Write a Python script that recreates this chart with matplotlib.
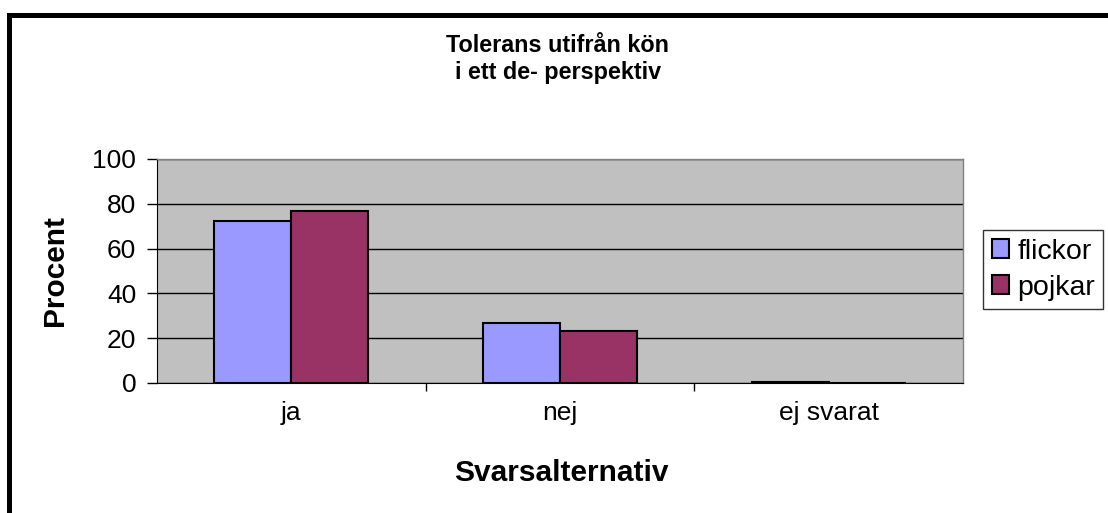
import matplotlib
matplotlib.use("Agg")
import matplotlib.pyplot as plt
from matplotlib.patches import Rectangle
import numpy as np

categories = ["ja", "nej", "ej svarat"]
flickor = [72.5, 27.0, 0.5]
pojkar = [77.0, 23.0, 0.0]
y_ticks = [0, 20, 40, 60, 80, 100]

plt.rcParams["font.family"] = ["Liberation Sans", "DejaVu Sans"]

fig = plt.figure(figsize=(11.08, 5.13), dpi=100)
W, H = 1108, 513
ax = fig.add_axes([157 / W, 1 - 383 / H, (963 - 157) / W, (383 - 159) / H])
ax.set_facecolor("#C0C0C0")

x = np.arange(len(categories))
bw = 0.287
ax.bar(x - bw / 2, flickor, bw, color="#9999FF", edgecolor="black", lw=1.5,
       label="flickor", zorder=3)
ax.bar(x + bw / 2, pojkar, bw, color="#993366", edgecolor="black", lw=1.5,
       label="pojkar", zorder=3)

ax.set_xlim(-0.5, 2.5)
ax.set_ylim(0, 100)
ax.set_yticks(y_ticks)
ax.set_yticklabels([str(t) for t in y_ticks], fontsize=19)
ax.set_xticks([0.5, 1.5], minor=False)
ax.set_xticklabels([])
ax.set_xticks(x, minor=True)
ax.set_xticklabels(categories, minor=True, fontsize=19)
ax.tick_params(axis="x", which="minor", length=0, pad=13)
ax.tick_params(axis="x", which="major", length=6, width=1, direction="out")
ax.tick_params(axis="y", length=7, width=1, direction="out", pad=8)
ax.grid(axis="y", color="black", lw=1, zorder=1)
for side in ["top", "right"]:
    ax.spines[side].set_color("#808080")
    ax.spines[side].set_linewidth(1)
ax.spines["left"].set_color("black")
ax.spines["bottom"].set_color("black")

ax.set_xlabel("Svarsalternativ", fontsize=21.5, fontweight="bold")
ax.xaxis.set_label_coords(561 / W, 1 - 473 / H, transform=fig.transFigure)
ax.xaxis.label.set_va("center")
ax.set_ylabel("Procent", fontsize=21.5, fontweight="bold")
ax.yaxis.set_label_coords(55 / W, 1 - 270 / H, transform=fig.transFigure)
ax.yaxis.label.set_va("center")

fig.text(558 / W, 1 - 45 / H, "Tolerans utifrån kön", ha="center", va="center",
         fontsize=16.8, fontweight="bold")
fig.text(558 / W, 1 - 73 / H, "i ett de- perspektiv", ha="center", va="center",
         fontsize=16.8, fontweight="bold")

leg = ax.legend(loc="upper left", bbox_to_anchor=(983 / W, 1 - 230 / H),
                bbox_transform=fig.transFigure, fontsize=20.5, frameon=True,
                fancybox=False, edgecolor="black", handlelength=0.6,
                handleheight=0.6, handletextpad=0.3, borderpad=0.3,
                labelspacing=0.35, borderaxespad=0)
leg.get_frame().set_linewidth(1)

fig.patches.append(Rectangle((8.5 / W, -0.1), 1.2, 1 - 14.5 / H + 0.1,
                             transform=fig.transFigure, fill=False,
                             edgecolor="black", lw=3.6))

fig.savefig("out.png", dpi=100, facecolor="white")
